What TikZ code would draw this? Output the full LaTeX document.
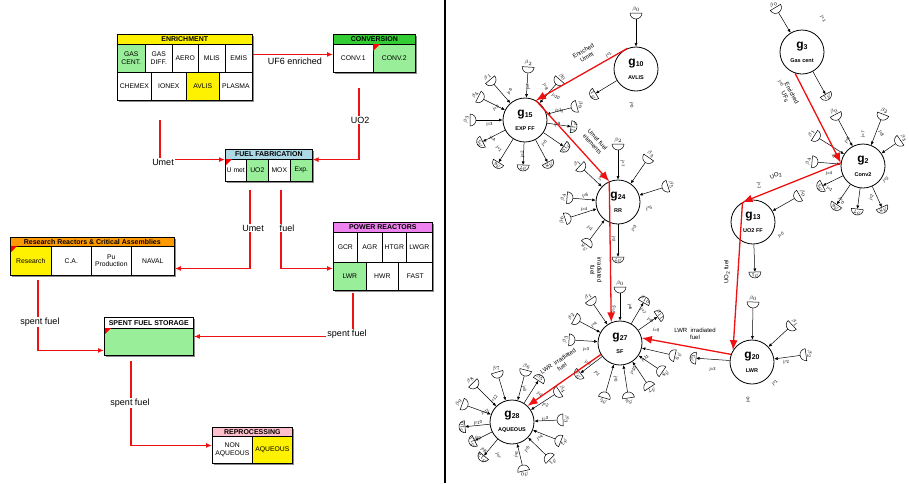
\documentclass[tikz,border=0pt]{standalone}
\usepackage{fontspec}
\setmainfont{Liberation Sans}
\usetikzlibrary{calc,arrows.meta}

\definecolor{cellgreen}{HTML}{99EE99}
\definecolor{hdrgreen}{HTML}{33CC33}
\definecolor{hdrblue}{HTML}{ADD8E6}
\definecolor{hdrorange}{HTML}{FF9900}
\definecolor{hdrviolet}{HTML}{EE82EE}
\definecolor{hdrpink}{HTML}{FFC0CB}
\definecolor{flowred}{HTML}{EE1111}

\tikzset{
  cell/.style={draw, fill=white, line width=0.6pt, anchor=north west, inner sep=0pt,
               align=center, font=\fontsize{6.8}{7.4}\selectfont},
  hdr/.style={cell, font=\fontsize{7}{7}\selectfont\bfseries},
  outline/.style={draw, line width=0.9pt, anchor=north west, inner sep=0pt},
  shadow/.style={fill=black!45},
  corner/.style={fill=red},
  flow/.style={draw=flowred, line width=1.2pt, -{Latex[length=6pt,width=5pt]}},
  flowlabel/.style={fill=white, inner sep=1pt, font=\fontsize{9}{9}\selectfont},
  gnode/.style={circle, draw, fill=white, line width=0.8pt, minimum size=44pt,
                inner sep=0pt, align=center},
  bigflow/.style={draw=flowred, line width=1.3pt, -{Latex[length=10pt,width=8pt]}},
  sarrow/.style={draw, line width=0.5pt, -{Latex[length=3.5pt,width=3pt]}},
  blabel/.style={inner sep=0pt, font=\fontsize{5.5}{5.5}\selectfont},
  elabel/.style={inner sep=0pt, font=\fontsize{4.3}{4.5}\selectfont},
  rlabel/.style={inner sep=0.5pt, align=center, font=\fontsize{6}{7}\selectfont},
  pics/bowl/.style={code={
    \draw[line width=0.5pt, fill=white] (-3,-6) arc[start angle=-90, end angle=90, radius=6] -- cycle;}},
}

% table cell: [options]{name}{x0}{y0}{x1}{y1}{text}
\newcommand\cellat[7][]{%
  \node[cell,#1,minimum width={#5-#3},minimum height={#6-#4}] (#2) at (#3,#4) {#7};}
% drop shadow and outline of a block
\newcommand\blockshadow[4]{\fill[shadow] (#1+2,#2+2) rectangle (#3+2,#4+2);}
\newcommand\blockframe[5]{%
  \node[outline,minimum width={#4-#2},minimum height={#5-#3}] (#1) at (#2,#3) {};}
\newcommand\redcorner[2]{\fill[corner] (#1,#2) -- ++(7,0) -- ++(-7,7) -- cycle;}

% graph node caption
\newcommand\gcap[2]{{\fontsize{12}{12}\selectfont\bfseries g\raisebox{-1pt}{\fontsize{7}{7}\selectfont #1}}\\[2pt]{\fontsize{5.5}{6}\selectfont\bfseries #2}}

% input store feeding a graph node: {name}{node}{(x,y)}{index}
\newcommand\satin[4]{%
  \coordinate (#1) at #3;
  \path let \p1=(#2), \p2=(#1),
            \n1={atan2(\y2-\y1,\x2-\x1)},
            \n2={veclen(\x2-\x1,\y2-\y1)},
            \n3={(\n1)+180},
            \n4={(\n1)-90},
            \n5={mod((\n1)+450,180)-90},
            \n6={((\n2)+19)/2},
            \n7={360-(\n1)},
            \n8={(\n7)-90}
        in pic[rotate=\n3] at (#1) {bowl}
           coordinate (#1-t) at ($(#1)+(\n7:-3)$)
           node[blabel, rotate=\n4] at ($(#1)+(\n7:6.8)$) {$\beta_{#4}$}
           node[elabel, rotate=\n5] at ($(#2)+(\n7:\n6)+(\n8:4.5)$) {j=#4};
  \draw[sarrow] (#1-t) -- (#2);
}
% output store fed by a graph node
\newcommand\satout[4]{%
  \coordinate (#1) at #3;
  \path let \p1=(#2), \p2=(#1),
            \n1={atan2(\y2-\y1,\x2-\x1)},
            \n2={veclen(\x2-\x1,\y2-\y1)},
            \n4={(\n1)-90},
            \n5={mod((\n1)+450,180)-90},
            \n6={((\n2)+19)/2},
            \n7={360-(\n1)},
            \n8={(\n7)-90}
        in pic[rotate=\n1] at (#1) {bowl}
           coordinate (#1-f) at ($(#1)+(\n7:-3)$)
           node[blabel, rotate=\n4] at ($(#1)+(\n7:0.5)$) {$\beta_{#4}$}
           node[elabel, rotate=\n5] at ($(#2)+(\n7:\n6)+(\n8:4.5)$) {j=#4};
  \draw[sarrow] (#2) -- (#1-f);
}

\begin{document}
\begin{tikzpicture}[x=1pt,y=-1pt]
\useasboundingbox (0,0) rectangle (909,483);

% ---------------- fuel cycle facilities ----------------
% Enrichment
\blockshadow{117}{34}{252}{100}
\cellat[hdr,fill=yellow]{enrH}{117}{34}{252}{44}{ENRICHMENT}
\cellat[fill=cellgreen]{gascent}{117}{44}{145}{72}{GAS\\CENT.}
\cellat{gasdiff}{145}{44}{172}{72}{GAS\\DIFF.}
\cellat{aero}{172}{44}{198}{72}{AERO}
\cellat{mlis}{198}{44}{225}{72}{MLIS}
\cellat{emis}{225}{44}{252}{72}{EMIS}
\cellat{chemex}{117}{72}{151}{100}{CHEMEX}
\cellat{ionex}{151}{72}{186}{100}{IONEX}
\cellat[fill=yellow]{avlis}{186}{72}{219}{100}{AVLIS}
\cellat{plasma}{219}{72}{252}{100}{PLASMA}
\blockframe{enr}{117}{34}{252}{100}

% Conversion
\blockshadow{333}{34}{415}{72}
\cellat[hdr,fill=hdrgreen]{convH}{333}{34}{415}{44}{CONVERSION}
\cellat{conv1}{333}{44}{373}{72}{CONV.1}
\cellat[fill=cellgreen]{conv2}{373}{44}{415}{72}{CONV.2}
\redcorner{373}{44}
\blockframe{conv}{333}{34}{415}{72}

% Fuel fabrication
\blockshadow{225}{149}{312}{181}
\cellat[hdr,fill=hdrblue]{fabH}{225}{149}{312}{159}{FUEL FABRICATION}
\cellat{umet}{225}{159}{246}{181}{U met}
\cellat[fill=cellgreen]{uo2}{246}{159}{268}{181}{UO2}
\cellat{mox}{268}{159}{290}{181}{MOX}
\cellat[fill=cellgreen]{expff}{290}{159}{312}{181}{Exp.}
\redcorner{225}{159}
\blockframe{fab}{225}{149}{312}{181}

% Research reactors
\blockshadow{10}{237}{174}{275}
\cellat[hdr,fill=hdrorange]{rrH}{10}{237}{174}{246}{Research Reactors \& Critical Assemblies}
\cellat[fill=yellow]{research}{10}{246}{51}{275}{Research}
\cellat{ca}{51}{246}{91}{275}{C.A.}
\cellat{puprod}{91}{246}{131}{275}{Pu\\Production}
\cellat{naval}{131}{246}{174}{275}{NAVAL}
\redcorner{10}{246}
\blockframe{rr}{10}{237}{174}{275}

% Power reactors
\blockshadow{333}{222}{432}{290}
\cellat[hdr,fill=hdrviolet]{prH}{333}{222}{432}{232}{POWER REACTORS}
\cellat{gcr}{333}{232}{357}{262}{GCR}
\cellat{agr}{357}{232}{382}{262}{AGR}
\cellat{htgr}{382}{232}{406}{262}{HTGR}
\cellat{lwgr}{406}{232}{432}{262}{LWGR}
\cellat[fill=cellgreen]{lwr}{333}{262}{366}{290}{LWR}
\cellat{hwr}{366}{262}{398}{290}{HWR}
\cellat{fast}{398}{262}{432}{290}{FAST}
\blockframe{pr}{333}{222}{432}{290}

% Spent fuel storage
\blockshadow{104}{317}{193}{355}
\cellat[hdr]{sfsH}{104}{317}{193}{328}{SPENT FUEL STORAGE}
\cellat[fill=cellgreen]{sfsB}{104}{328}{193}{355}{}
\redcorner{104}{328}
\blockframe{sfs}{104}{317}{193}{355}

% Reprocessing
\blockshadow{212}{427}{292}{463}
\cellat[hdr,fill=hdrpink]{repH}{212}{427}{292}{436}{REPROCESSING}
\cellat{nonaq}{212}{436}{252}{463}{NON\\AQUEOUS}
\cellat[fill=yellow]{aq}{252}{436}{292}{463}{AQUEOUS}
\blockframe{rep}{212}{427}{292}{463}

% material flows between facilities
\draw[flow] ([yshift=13pt]enr.east) -- ([yshift=13pt]enr.east -| conv.west);
\node[font=\fontsize{9}{9}\selectfont, anchor=north] at (295,54) {UF6 enriched};

\coordinate (umetS) at (160,120);
\draw[flow] (umetS) |- (fabH.south west);
\node[flowlabel] at (163,162) {Umet};

\coordinate (uo2S) at (359,88);
\draw[flow] (uo2S) |- (fabH.south east);
\node[flowlabel] at (360,120) {UO2};

\coordinate (fabA) at (250,190);
\coordinate (fabB) at (281,190);
\draw[flow] (fabA) |- ([yshift=-12pt]rr.east);
\draw[flow] (fabB) |- ([yshift=-12pt]pr.west);
\node[flowlabel] at (253,228) {Umet};
\node[flowlabel] at (287,228) {fuel};

\coordinate (rrS) at (38,280);
\draw[flow] (rrS) |- ([yshift=-14pt]sfs.west);
\node[flowlabel] at (40,322) {spent fuel};

\coordinate (prS) at (353,293);
\draw[flow] (prS) |- (sfs.east);
\node[flowlabel] at (347,334) {spent fuel};

\coordinate (sfsS) at (131,361);
\draw[flow] (sfsS) |- (rep.west);
\node[flowlabel] at (130,403) {spent fuel};

% separator
\draw[line width=1.5pt] (445,0) -- (445,483);

% ---------------- material flow graph ----------------
\node[gnode] (g10) at (636,69)  {\gcap{10}{AVLIS}};
\node[gnode] (g15) at (525,120) {\gcap{15}{EXP FF}};
\node[gnode] (g3)  at (802,52)  {\gcap{3}{Gas cent}};
\node[gnode] (g2)  at (863,166) {\gcap{2}{Conv2}};
\node[gnode] (g24) at (618,202) {\gcap{24}{RR}};
\node[gnode] (g13) at (753,222) {\gcap{13}{UO2 FF}};
\node[gnode] (g27) at (620,343) {\gcap{27}{SF}};
\node[gnode] (g20) at (752,362) {\gcap{20}{LWR}};
\node[gnode] (g28) at (512,422) {\gcap{28}{AQUEOUS}};

% stores around g10
\satin{a0}{g10}{(636,16)}{0}
\satout{a1}{g10}{(593,95)}{1}
% stores around g15
\satin{b2}{g15}{(528,70)}{2}
\satin{b1}{g15}{(492,82)}{1}
\satin{b4}{g15}{(481,98)}{4}
\satin{b3}{g15}{(473,120)}{3}
\satin{b9}{g15}{(574,107)}{9}
\satin{b0}{g15}{(558,82)}{0}
\satout{b5}{g15}{(480,143)}{5}
\satout{b6}{g15}{(497,165)}{6}
\satout{b7}{g15}{(523,168)}{7}
\satout{b8}{g15}{(549,165)}{8}
\satout{b10}{g15}{(566,148)}{10}
\satout{b11}{g15}{(574,127)}{11}
% stores around g3
\satin{c0}{g3}{(777,10)}{0}
\satout{c1}{g3}{(827,97)}{1}
% stores around g2
\satin{d1}{g2}{(817,137)}{1}
\satin{d0}{g2}{(837,117)}{0}
\satin{d2}{g2}{(882,117)}{2}
\satin{d3}{g2}{(898,142)}{3}
\satin{d4}{g2}{(815,162)}{4}
\satout{d5}{g2}{(820,187)}{5}
\satout{d6}{g2}{(835,207)}{6}
\satout{d7}{g2}{(857,212)}{7}
\satout{d8}{g2}{(883,210)}{8}
% stores around g13
\satin{e0}{g13}{(797,197)}{0}
\satout{e1}{g13}{(755,275)}{1}
% stores around g20
\satin{f0}{g20}{(753,305)}{0}
\satin{f1}{g20}{(790,327)}{1}
\satin{f2}{g20}{(803,355)}{2}
\satout{f3}{g20}{(693,358)}{3}
% stores around g24
\satin{h2}{g24}{(618,147)}{2}
\satin{h3}{g24}{(647,160)}{3}
\satin{h5}{g24}{(665,187)}{5}
\satin{h1}{g24}{(582,168)}{1}
\satin{h4}{g24}{(570,198)}{4}
\satin{h6}{g24}{(568,218)}{6}
\satin{h8}{g24}{(588,242)}{8}
\satout{h7}{g24}{(618,260)}{7}
% stores around g27
\satin{k0}{g27}{(620,290)}{0}
\satin{k1}{g27}{(592,302)}{1}
\satin{k2}{g27}{(577,320)}{2}
\satin{k3}{g27}{(572,340)}{3}
\satin{k5}{g27}{(605,395)}{5}
\satin{k6}{g27}{(628,395)}{6}
\satin{k7}{g27}{(648,385)}{7}
\satin{k8}{g27}{(660,370)}{8}
\satin{k9}{g27}{(672,355)}{9}
\satout{k4}{g27}{(578,375)}{4}
\satout{k10}{g27}{(645,300)}{10}
\satout{k11}{g27}{(660,315)}{11}
% stores around g28
\satin{m7}{g28}{(498,375)}{7}
\satin{m6}{g28}{(525,373)}{6}
\satin{m8}{g28}{(475,385)}{8}
\satin{m9}{g28}{(465,405)}{9}
\satin{m0}{g28}{(523,468)}{0}
\satin{m1}{g28}{(548,457)}{1}
\satin{m2}{g28}{(558,440)}{2}
\satin{m3}{g28}{(560,420)}{3}
\satin{m4}{g28}{(557,393)}{4}
\satout{m10}{g28}{(462,427)}{10}
\satout{m11}{g28}{(472,442)}{11}
\satout{m12}{g28}{(482,458)}{12}
\satout{m5}{g28}{(540,378)}{5}

% material flows between nodes
\draw[bigflow] (g10.112) -- (g15.61);
\draw[bigflow] (g15.61) -- (g24.113);
\draw[bigflow] (g24.113) -- (g27.113);
\draw[bigflow] (g3.252) -- (g2.172);
\draw[bigflow] (g2.172) -- (g13.118);
\draw[bigflow] (g13.118) -- (g20.148);
\draw[bigflow] (g20.160) -- (g27.13);
\draw[bigflow] (g27.211) -- (g28.46);

\node[rlabel, rotate=30]  at (585,54)  {Enriched\\Umet};
\node[rlabel, rotate=-47] at (595,142) {Umet fuel\\elements};
\node[rlabel, rotate=-90] at (596,270) {irradiated\\fuel};
\node[rlabel, rotate=-62] at (788,95)  {Enriched\\UF\textsubscript{6}};
\node[rlabel, rotate=22]  at (776,176) {UO\textsubscript{2}};
\node[rlabel, rotate=90]  at (727,272) {UO\textsubscript{2} fuel};
\node[rlabel]             at (695,334) {LWR\ \ irradiated\\fuel};
\node[rlabel, rotate=34]  at (560,364) {LWR\ \ irradiated\\fuel};
\end{tikzpicture}
\end{document}
